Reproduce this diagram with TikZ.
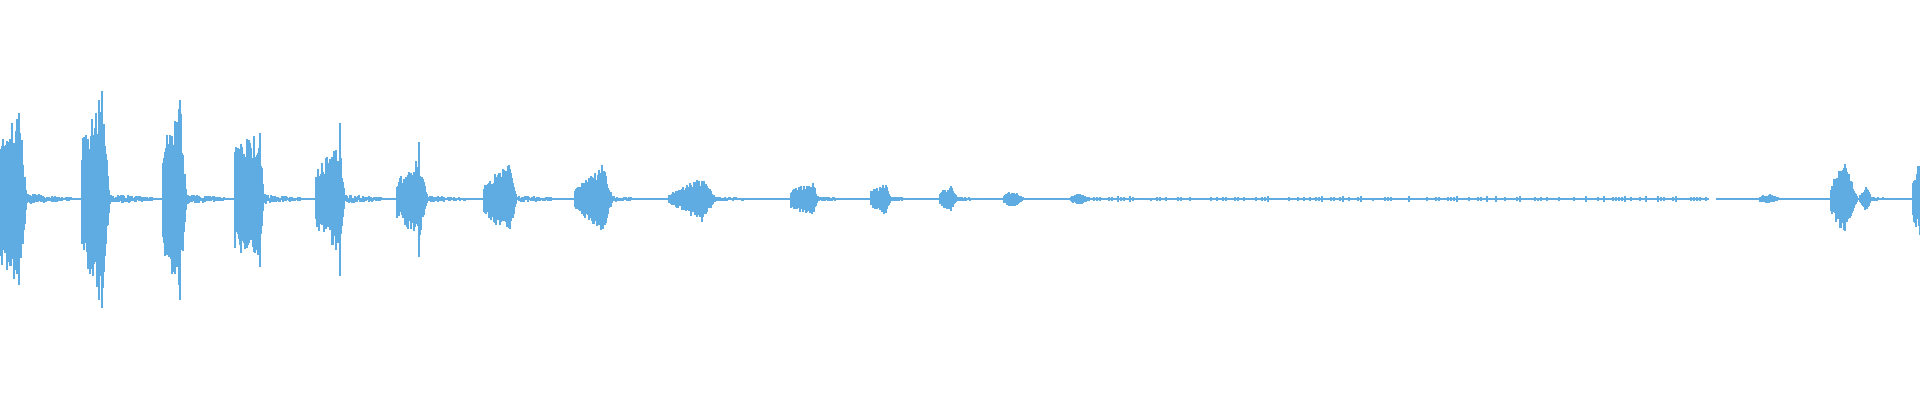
\documentclass[tikz,border=0pt]{standalone}
\definecolor{wave}{RGB}{94,172,226}
\newcommand\wburst[5]{%
  \foreach \x in {#1,...,#3}{%
    \pgfmathsetmacro\env{ifthenelse(\x<=#2, #4+(#5-#4)*(\x-#1)/max(#2-#1,1), #5*(#3-\x)/max(#3-#2,1))}%
    \pgfmathsetmacro\at{\env*(0.55+0.45*rnd)+1}%
    \pgfmathsetmacro\ab{\env*(0.55+0.45*rnd)+1}%
    \draw[wv] (\x,199-\at) -- (\x,199+\ab);}}
\newcommand\wtail[3]{%
  \foreach \x in {#1,...,#2}{%
    \pgfmathsetmacro\at{#3*(1-(\x-#1)/(#2-#1))*rnd+0.8}%
    \pgfmathsetmacro\ab{#3*(1-(\x-#1)/(#2-#1))*rnd+0.8}%
    \draw[wv] (\x,199-\at) -- (\x,199+\ab);}}
\begin{document}
\begin{tikzpicture}[x=1pt,y=-1pt,wv/.style={draw=wave,line width=1.05pt}]
\pgfmathsetseed{4242}
\useasboundingbox (0,0) rectangle (1920,400);
\draw[wave,line width=1.6pt] (0,199) -- (1709,199) (1716,199) -- (1920,199);
\wburst{0}{20}{27}{70}{85}\wtail{27}{80}{5}
\draw[wv] (19,113) -- (19,285);
\wburst{82}{102}{110}{58}{105}\wtail{110}{160}{5}
\draw[wv] (102,91) -- (102,308) (99,100) -- (99,300);
\wburst{163}{180}{187}{55}{98}\wtail{187}{233}{5}
\draw[wv] (180,100) -- (180,300);
\wburst{235}{260}{264}{52}{66}\wtail{264}{310}{4}
\draw[wv] (260,133) -- (260,267);
\wburst{316}{340}{345}{30}{55}\wtail{345}{395}{4}
\draw[wv] (340,123) -- (340,276);
\wburst{397}{419}{428}{18}{40}\wtail{428}{480}{3}
\draw[wv] (419,142) -- (419,257);
\wburst{484}{509}{517}{14}{38}\wtail{517}{570}{3}
\wburst{575}{603}{613}{9}{34}\wtail{613}{650}{2}
\wburst{669}{702}{716}{4}{22}\wtail{716}{760}{2}
\wburst{791}{813}{818}{8}{17}\wtail{818}{850}{2}
\wburst{871}{886}{891}{8}{15}\wtail{891}{910}{2}
\wburst{940}{951}{958}{7}{12}\wtail{958}{985}{1.5}
\wburst{1004}{1012}{1024}{3}{8}
\wburst{1071}{1080}{1091}{2}{5}
\foreach \x in {1094,1097,...,1706}{%
  \pgfmathsetmacro\at{2.8*rnd}%
  \draw[wv] (\x,199-\at) -- (\x,199+\at);}
\wburst{1760}{1770}{1780}{2}{4}
\wburst{1831}{1845}{1858}{15}{36}
\wburst{1860}{1866}{1872}{3}{12}\wtail{1872}{1890}{2}
\wburst{1913}{1920}{1920}{20}{38}
\end{tikzpicture}
\end{document}
